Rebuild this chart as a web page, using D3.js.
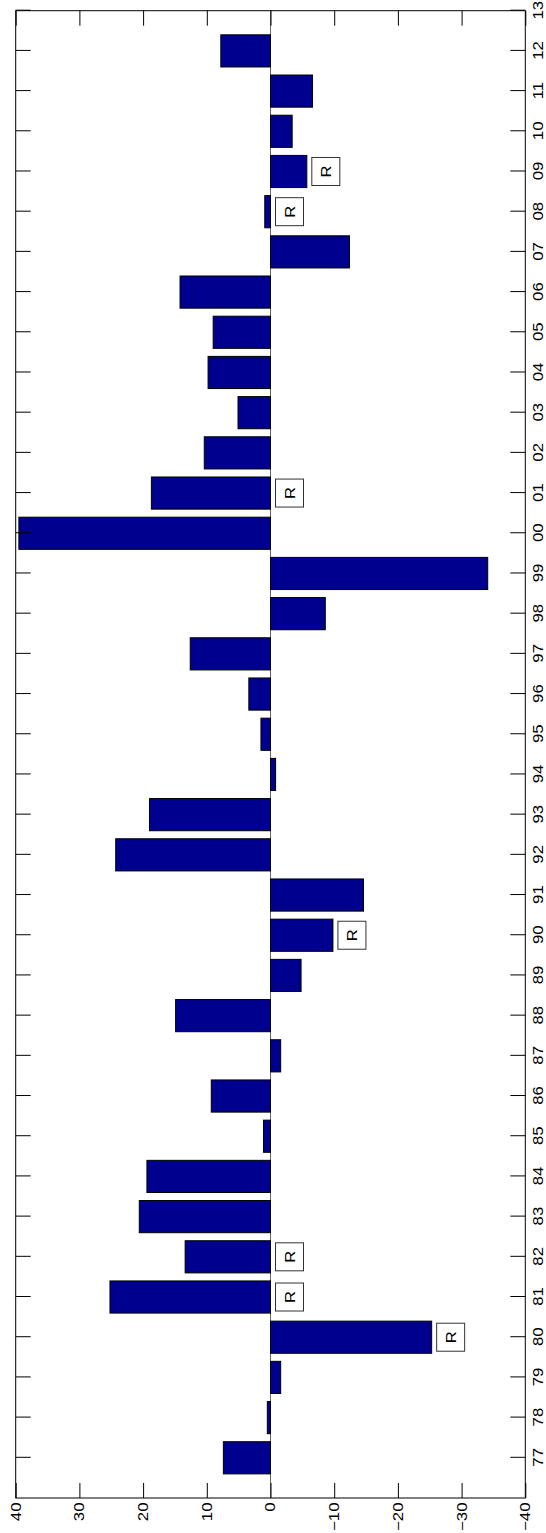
<!DOCTYPE html>
<html>
<head>
<meta charset="utf-8">
<script src="https://cdn.jsdelivr.net/npm/d3@7"></script>
<style>
  html, body { margin: 0; padding: 0; background: #fff; }
  svg { display: block; }
</style>
</head>
<body>
<svg id="chart" width="546" height="1533"></svg>
<script>
// Annual values, 1977–2012
const years = [1977, 1978, 1979, 1980, 1981, 1982, 1983, 1984, 1985, 1986, 1987, 1988,
               1989, 1990, 1991, 1992, 1993, 1994, 1995, 1996, 1997, 1998, 1999, 2000,
               2001, 2002, 2003, 2004, 2005, 2006, 2007, 2008, 2009, 2010, 2011, 2012];
const values = [7.4, 0.5, -1.6, -25.3, 25.2, 13.4, 20.6, 19.4, 1.1, 9.3, -1.6, 14.9,
                -4.8, -9.8, -14.6, 24.3, 19.0, -0.8, 1.5, 3.4, 12.6, -8.6, -34.1, 39.5,
                18.7, 10.4, 5.1, 9.8, 9.0, 14.2, -12.4, 0.9, -5.7, -3.4, -6.6, 7.8];
// Years flagged with an "R" marker
const recessionYears = [1980, 1981, 1982, 1990, 2001, 2008, 2009];
const markerText = "R";

// Axis ticks
const yearTicks = d3.range(1977, 2014);
const valueTicks = [-40, -30, -20, -10, 0, 10, 20, 30, 40];
const yearDomain = [1976, 2013];
const valueDomain = [-40, 40];

const pageW = 546, pageH = 1533;
// The chart is laid out landscape (W x H) and turned a quarter turn counter-clockwise.
const W = pageH, H = pageW;
const margin = { left: 35, right: 10.7, top: 15.7, bottom: 20.7 };

const FONT = "'Liberation Sans', Arial, Helvetica, sans-serif";
const FONT_SIZE = 14;
const MARKER_FONT_SIZE = 15;
const STRETCH = 1.2;
const TICK = 15;

const svg = d3.select("#chart");
svg.append("rect").attr("width", pageW).attr("height", pageH).attr("fill", "#fff");

const g = svg.append("g")
  .attr("transform", `translate(0,${pageH}) rotate(-90)`);

const x = d3.scaleLinear().domain(yearDomain).range([margin.left, W - margin.right]);
const y = d3.scaleLinear().domain(valueDomain).range([H - margin.bottom, margin.top]);

const barW = 0.8 * (x(1) - x(0));

// Zero baseline
g.append("line")
  .attr("x1", x.range()[0]).attr("x2", x.range()[1])
  .attr("y1", y(0)).attr("y2", y(0))
  .attr("stroke", "#666").attr("stroke-width", 1);

// Bars
g.append("g").selectAll("rect")
  .data(years.map((yr, i) => ({ yr, v: values[i] })))
  .join("rect")
  .attr("x", d => x(d.yr) - barW / 2)
  .attr("width", barW)
  .attr("y", d => y(Math.max(0, d.v)))
  .attr("height", d => Math.abs(y(d.v) - y(0)))
  .attr("fill", "#00008f")
  .attr("stroke", "#000")
  .attr("stroke-width", 1);

// "R" markers under each flagged bar
const box = 28, gap = 5;
const markers = g.append("g").selectAll("g")
  .data(recessionYears.map(yr => ({ yr, v: values[years.indexOf(yr)] })))
  .join("g")
  .attr("transform", d => `translate(${x(d.yr)},${y(Math.min(0, d.v)) + gap})`);
markers.append("rect")
  .attr("x", -box / 2).attr("y", 0)
  .attr("width", box).attr("height", box)
  .attr("fill", "#fff").attr("stroke", "#333").attr("stroke-width", 1);
markers.append("text")
  .attr("transform", `translate(0,${box / 2}) scale(1.1,1)`)
  .attr("text-anchor", "middle")
  .attr("dy", "0.36em")
  .attr("font-family", FONT).attr("font-size", MARKER_FONT_SIZE)
  .attr("fill", "#000")
  .text(markerText);

function styleAxis(sel) {
  sel.attr("font-family", FONT).attr("font-size", FONT_SIZE);
  sel.select(".domain").remove();
  sel.selectAll(".tick line").attr("stroke", "#000").attr("stroke-width", 1);
}

// Year axis (labels) and its mirror
g.append("g")
  .attr("transform", `translate(0,${y.range()[0]})`)
  .call(d3.axisBottom(x).tickValues(yearTicks)
    .tickFormat(d => String(d).slice(2))
    .tickSizeInner(-TICK).tickSizeOuter(0).tickPadding(7.5))
  .call(styleAxis)
  .call(a => a.selectAll(".tick text")
    .attr("fill", "#000")
    .attr("transform", `scale(${STRETCH},1)`));

g.append("g")
  .attr("transform", `translate(0,${y.range()[1]})`)
  .call(d3.axisTop(x).tickValues(yearTicks).tickFormat("")
    .tickSizeInner(-TICK).tickSizeOuter(0))
  .call(styleAxis);

// Value axis (labels) and its mirror
g.append("g")
  .attr("transform", `translate(${x.range()[0]},0)`)
  .call(d3.axisLeft(y).tickValues(valueTicks)
    .tickFormat(d3.format("d"))
    .tickSizeInner(-TICK).tickSizeOuter(0))
  .call(styleAxis)
  .call(a => a.selectAll(".tick text")
    .attr("fill", "#000")
    .attr("x", -4.5 / STRETCH)
    .attr("transform", `scale(${STRETCH},1)`));

g.append("g")
  .attr("transform", `translate(${x.range()[1]},0)`)
  .call(d3.axisRight(y).tickValues(valueTicks).tickFormat("")
    .tickSizeInner(-TICK).tickSizeOuter(0))
  .call(styleAxis);

// Plot frame
g.append("rect")
  .attr("x", x.range()[0]).attr("y", y.range()[1])
  .attr("width", x.range()[1] - x.range()[0])
  .attr("height", y.range()[0] - y.range()[1])
  .attr("fill", "none").attr("stroke", "#000").attr("stroke-width", 1);
</script>
</body>
</html>
